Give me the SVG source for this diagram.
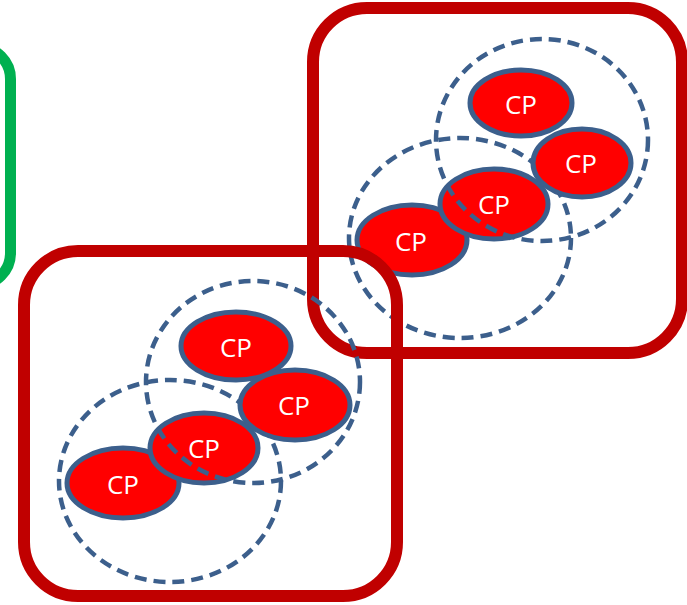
<svg xmlns="http://www.w3.org/2000/svg" width="687" height="605" viewBox="0 0 687 605">
<style>
.box{fill:none;stroke:#c00000;stroke-width:12}
.grn{fill:none;stroke:#00b050;stroke-width:11}
.ring{fill:none;stroke:#3c5f8c;stroke-width:4.5;stroke-dasharray:12 7}
.cp ellipse{fill:#ff0000;stroke:#3c5f8c;stroke-width:5}
.cp text{fill:#ffffff;font-family:"Open Sans","Liberation Sans",sans-serif;font-size:26px;text-anchor:middle;dominant-baseline:central}
</style>
<rect width="687" height="605" fill="#ffffff"/>
<g id="green-box"><rect class="grn" x="-100" y="47" width="110.5" height="238" rx="32"/></g>

<g id="cluster-top-right">
<rect class="box" x="313" y="8" width="369" height="345" rx="54"/>
<ellipse class="ring" cx="460" cy="238" rx="111" ry="100"/>
<g id="tr-cp4" class="cp"><ellipse cx="412" cy="240" rx="55" ry="35"/><text x="411" y="241">CP</text></g>
<g id="tr-cp1" class="cp"><ellipse cx="521" cy="103" rx="51" ry="33"/><text x="521" y="104">CP</text></g>
<g id="tr-cp3" class="cp"><ellipse cx="494" cy="204" rx="54" ry="35"/><text x="494" y="204">CP</text></g>
<g id="tr-cp2" class="cp"><ellipse cx="582" cy="163" rx="49" ry="34"/><text x="581" y="163">CP</text></g>
<ellipse class="ring" cx="542" cy="140" rx="106" ry="101"/>
</g>

<g id="cluster-bottom-left">
<rect class="box" x="24" y="251" width="373" height="345" rx="54"/>
<ellipse class="ring" cx="170" cy="481" rx="111" ry="101"/>
<g id="bl-cp4" class="cp"><ellipse cx="123" cy="483" rx="56" ry="35"/><text x="123" y="484">CP</text></g>
<g id="bl-cp1" class="cp"><ellipse cx="236" cy="346" rx="55" ry="34"/><text x="236" y="347">CP</text></g>
<g id="bl-cp3" class="cp"><ellipse cx="204" cy="448" rx="54" ry="35"/><text x="204" y="448">CP</text></g>
<g id="bl-cp2" class="cp"><ellipse cx="295" cy="405" rx="55" ry="35"/><text x="294" y="405">CP</text></g>
<ellipse class="ring" cx="253" cy="382" rx="107" ry="101"/>
</g>
</svg>
